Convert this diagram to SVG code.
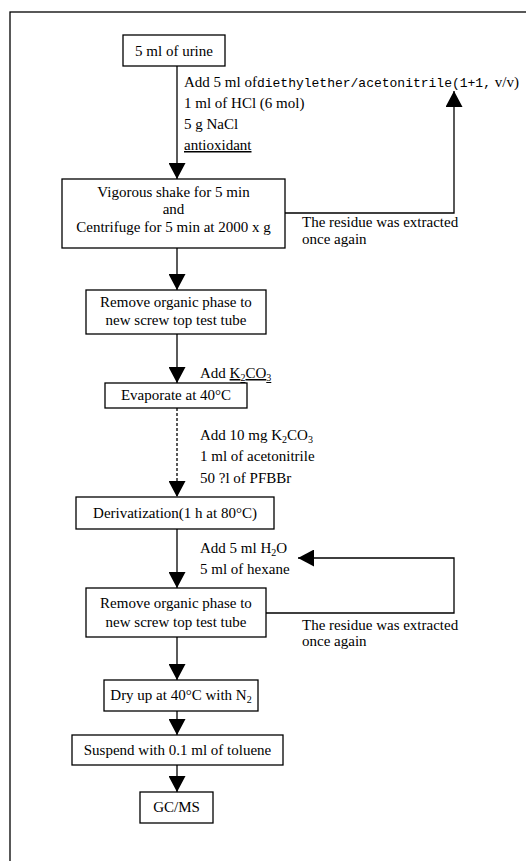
<svg xmlns="http://www.w3.org/2000/svg" width="526" height="861" viewBox="0 0 526 861">
<style>
.box{fill:#fff;stroke:#000;stroke-width:1.3}
.t{font-family:"Liberation Serif","Times New Roman",serif;font-size:15px;fill:#000}
.m{font-family:"Liberation Mono","Courier New",monospace;font-size:13px}
.c{text-anchor:middle}
.ln{stroke:#000;stroke-width:1.3;fill:none}
.d{stroke-dasharray:3 2}
.sub{font-size:10px}
</style>
<defs>
<marker id="ah" viewBox="0 0 16 17" refX="16" refY="8.5" markerWidth="16" markerHeight="17" orient="auto" markerUnits="userSpaceOnUse">
<path d="M0,0 L16,8.5 L0,17 Z" fill="#000"/>
</marker>
</defs>
<rect x="0" y="0" width="526" height="861" fill="#fff"/>
<rect x="10" y="12" width="540" height="870" fill="none" stroke="#000" stroke-width="1.3"/>
<g id="connectors">
<path class="ln" d="M177,66 V179" marker-end="url(#ah)"/>
<path class="ln" d="M177,248 V290" marker-end="url(#ah)"/>
<path class="ln" d="M177,334 V383" marker-end="url(#ah)"/>
<path class="ln d" d="M177,408 V497" marker-end="url(#ah)"/>
<path class="ln" d="M177,529 V588" marker-end="url(#ah)"/>
<path class="ln" d="M177,637 V680" marker-end="url(#ah)"/>
<path class="ln" d="M177,711 V735" marker-end="url(#ah)"/>
<path class="ln" d="M177,765 V792" marker-end="url(#ah)"/>
<path class="ln" d="M285,213 H454 V91" marker-end="url(#ah)"/>
<path class="ln" d="M266,613 H454 V558 H298" marker-end="url(#ah)"/>
</g>
<g id="labels">
<text class="t" x="184" y="87">Add 5 ml of<tspan class="m">diethylether/acetonitrile(1+1,</tspan> v/v)</text>
<text class="t" x="184" y="108">1 ml of HCl (6 mol)</text>
<text class="t" x="184" y="129">5 g NaCl</text>
<text class="t" x="184" y="150" text-decoration="underline">antioxidant</text>
<text class="t" x="302" y="227">The residue was extracted</text>
<text class="t" x="302" y="244">once again</text>
<text class="t" x="200" y="378">Add <tspan text-decoration="underline">K<tspan class="sub" dy="3">2</tspan><tspan dy="-3">CO</tspan><tspan class="sub" dy="3">3</tspan></tspan></text>
<text class="t" x="200" y="440">Add 10 mg K<tspan class="sub" dy="3">2</tspan><tspan dy="-3">CO</tspan><tspan class="sub" dy="3">3</tspan></text>
<text class="t" x="200" y="461">1 ml of acetonitrile</text>
<text class="t" x="200" y="483">50 ?l of PFBBr</text>
<text class="t" x="200" y="553">Add 5 ml H<tspan class="sub" dy="3">2</tspan><tspan dy="-3">O</tspan></text>
<text class="t" x="200" y="574">5 ml of hexane</text>
<text class="t" x="302" y="630">The residue was extracted</text>
<text class="t" x="302" y="646">once again</text>
</g>
<g id="n1"><rect class="box" x="123" y="35" width="102" height="31"/><text class="t c" x="174" y="56">5 ml of urine</text></g>
<g id="n2"><rect class="box" x="62" y="179" width="223" height="69"/>
<text class="t c" x="173.5" y="197">Vigorous shake for 5 min</text>
<text class="t c" x="173.5" y="214">and</text>
<text class="t c" x="173.5" y="232">Centrifuge for 5 min at 2000 x g</text></g>
<g id="n3"><rect class="box" x="86" y="290" width="180" height="44"/>
<text class="t c" x="176" y="307">Remove organic phase to</text>
<text class="t c" x="176" y="325">new screw top test tube</text></g>
<g id="n4"><rect class="box" x="105" y="383" width="142" height="25"/><text class="t c" x="176" y="400">Evaporate at 40°C</text></g>
<g id="n5"><rect class="box" x="76" y="497" width="198" height="32"/><text class="t c" x="175" y="518">Derivatization(1 h at 80°C)</text></g>
<g id="n6"><rect class="box" x="86" y="588" width="180" height="49"/>
<text class="t c" x="176" y="608">Remove organic phase to</text>
<text class="t c" x="176" y="627">new screw top test tube</text></g>
<g id="n7"><rect class="box" x="104" y="680" width="154" height="31"/><text class="t c" x="181" y="700">Dry up at 40°C with N<tspan class="sub" dy="3">2</tspan></text></g>
<g id="n8"><rect class="box" x="72" y="735" width="211" height="30"/><text class="t c" x="177.5" y="755">Suspend with 0.1 ml of toluene</text></g>
<g id="n9"><rect class="box" x="140" y="792" width="73" height="31"/><text class="t c" x="176.5" y="812">GC/MS</text></g>
</svg>
